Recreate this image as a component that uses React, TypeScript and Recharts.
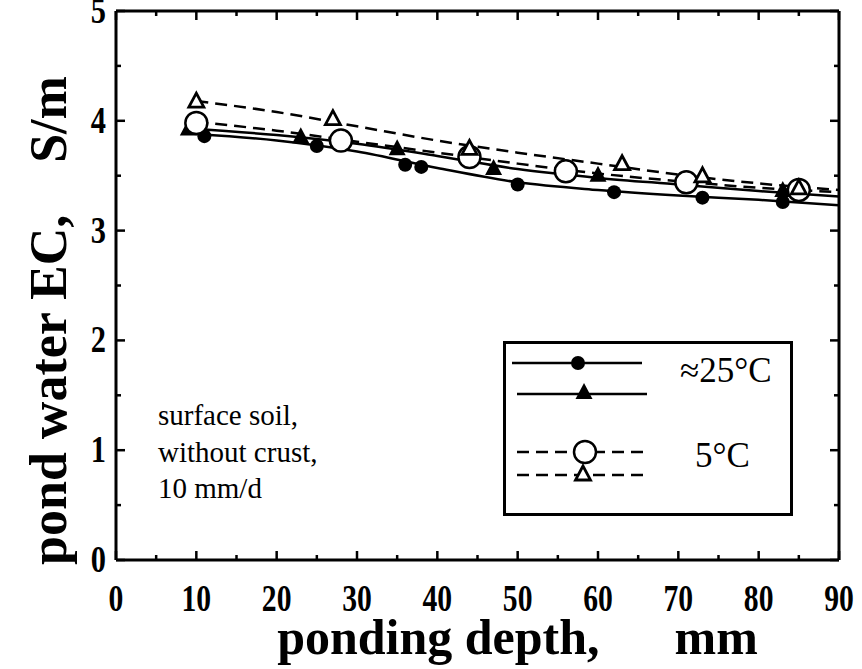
import React from 'react';
import { ComposedChart, Line, Scatter, XAxis, YAxis, Legend } from 'recharts';

// measured points (ponding depth mm, EC S/m)
const warmCircles = [
  { x: 11, y: 3.86 }, { x: 25, y: 3.77 }, { x: 36, y: 3.6 }, { x: 38, y: 3.58 },
  { x: 50, y: 3.42 }, { x: 62, y: 3.35 }, { x: 73, y: 3.3 }, { x: 83, y: 3.26 },
];
const warmTriangles = [
  { x: 9, y: 3.92 }, { x: 23, y: 3.85 }, { x: 35, y: 3.74 }, { x: 47, y: 3.56 },
  { x: 60, y: 3.5 }, { x: 83, y: 3.36 },
];
const coldCircles = [
  { x: 10, y: 3.98 }, { x: 28, y: 3.82 }, { x: 44, y: 3.67 }, { x: 56, y: 3.54 },
  { x: 71, y: 3.44 }, { x: 85, y: 3.37 },
];
const coldTriangles = [
  { x: 10, y: 4.17 }, { x: 27, y: 4.01 }, { x: 44, y: 3.74 }, { x: 63, y: 3.6 },
  { x: 73, y: 3.49 }, { x: 85, y: 3.38 },
];

// fitted curves
const warmCircleFit = [
  { x: 10, y: 3.88 }, { x: 20, y: 3.82 }, { x: 30, y: 3.72 }, { x: 40, y: 3.57 }, { x: 50, y: 3.44 },
  { x: 60, y: 3.37 }, { x: 70, y: 3.32 }, { x: 80, y: 3.28 }, { x: 90, y: 3.23 },
];
const warmTriangleFit = [
  { x: 9, y: 3.93 }, { x: 20, y: 3.87 }, { x: 30, y: 3.79 }, { x: 40, y: 3.68 }, { x: 50, y: 3.56 },
  { x: 60, y: 3.48 }, { x: 70, y: 3.42 }, { x: 80, y: 3.36 }, { x: 90, y: 3.31 },
];
const coldCircleFit = [
  { x: 10, y: 3.99 }, { x: 20, y: 3.91 }, { x: 30, y: 3.81 }, { x: 40, y: 3.71 }, { x: 50, y: 3.61 },
  { x: 60, y: 3.52 }, { x: 70, y: 3.45 }, { x: 80, y: 3.39 }, { x: 90, y: 3.35 },
];
const coldTriangleFit = [
  { x: 10, y: 4.18 }, { x: 20, y: 4.08 }, { x: 30, y: 3.95 }, { x: 40, y: 3.82 }, { x: 50, y: 3.71 },
  { x: 60, y: 3.61 }, { x: 70, y: 3.51 }, { x: 80, y: 3.43 }, { x: 90, y: 3.37 },
];

const depthTicks = [0, 5, 10, 15, 20, 25, 30, 35, 40, 45, 50, 55, 60, 65, 70, 75, 80, 85, 90];
const ecTicks = [0, 0.5, 1, 1.5, 2, 2.5, 3, 3.5, 4, 4.5, 5];

const noteLines = ['surface soil,', 'without crust,', '10 mm/d'];
const xTitle = 'ponding depth,\u00a0\u00a0\u00a0\u00a0\u00a0\u00a0mm';
const yTitle = 'pond water EC,\u00a0\u00a0\u00a0\u00a0S/m';

const SERIF = '"Liberation Serif", "Times New Roman", serif';

const isMajor = (v: number) => Math.abs(v - Math.round(v / 10) * 10) < 1e-6;
const isMajorY = (v: number) => Math.abs(v - Math.round(v)) < 1e-6;

const BottomTick = (p: any) => {
  const v = p.payload.value;
  const major = isMajor(v);
  return (
    <g>
      <line x1={p.x} x2={p.x} y1={p.y} y2={p.y - (major ? 9 : 5)} stroke="#000" strokeWidth={2.5} />
      {major && (
        <text
          transform={`translate(${p.x},${p.y + 51}) scale(0.78,1)`}
          textAnchor="middle"
          fontFamily={SERIF}
          fontWeight="bold"
          fontSize={38}
          fill="#000"
        >
          {v}
        </text>
      )}
    </g>
  );
};

const TopTick = (p: any) => {
  const major = isMajor(p.payload.value);
  return <line x1={p.x} x2={p.x} y1={p.y} y2={p.y + (major ? 9 : 5)} stroke="#000" strokeWidth={2.5} />;
};

const LeftTick = (p: any) => {
  const v = p.payload.value;
  const major = isMajorY(v);
  return (
    <g>
      <line x1={p.x} x2={p.x + (major ? 9 : 5)} y1={p.y} y2={p.y} stroke="#000" strokeWidth={2.5} />
      {major && (
        <text
          transform={`translate(${p.x - 10},${p.y + 12}) scale(0.8,1)`}
          textAnchor="end"
          fontFamily={SERIF}
          fontWeight="bold"
          fontSize={38}
          fill="#000"
        >
          {v}
        </text>
      )}
    </g>
  );
};

const RightTick = (p: any) => {
  const major = isMajorY(p.payload.value);
  return <line x1={p.x} x2={p.x - (major ? 9 : 5)} y1={p.y} y2={p.y} stroke="#000" strokeWidth={2.5} />;
};

const XTitle = (p: any) => {
  const vb = p.viewBox;
  return (
    <text
      x={vb.x + vb.width / 2 + 40}
      y={vb.y + vb.height - 15}
      textAnchor="middle"
      fontFamily={SERIF}
      fontWeight="bold"
      fontSize={50}
      fill="#000"
    >
      {xTitle}
    </text>
  );
};

const YTitle = (p: any) => {
  const vb = p.viewBox;
  const cx = vb.x + 66;
  const cy = vb.y + vb.height / 2 + 35;
  return (
    <text
      transform={`translate(${cx},${cy}) rotate(-90)`}
      textAnchor="middle"
      fontFamily={SERIF}
      fontWeight="bold"
      fontSize={52}
      fill="#000"
    >
      {yTitle}
    </text>
  );
};

const dot = (cx: number, cy: number) => <circle cx={cx} cy={cy} r={7} fill="#000" />;
const tri = (cx: number, cy: number) => (
  <polygon points={`${cx},${cy - 10} ${cx - 8.5},${cy + 6} ${cx + 8.5},${cy + 6}`} fill="#000" />
);
const ring = (cx: number, cy: number) => (
  <circle cx={cx} cy={cy} r={11} fill="#fff" stroke="#000" strokeWidth={2.5} />
);
const hollowTri = (cx: number, cy: number) => (
  <polygon
    points={`${cx},${cy - 9} ${cx - 7.5},${cy + 5} ${cx + 7.5},${cy + 5}`}
    fill="#fff"
    stroke="#000"
    strokeWidth={2.8}
    strokeLinejoin="miter"
  />
);

const LegendBox = () => (
  <svg width={290} height={175} style={{ display: 'block' }}>
    <rect x={1.5} y={1.5} width={287} height={172} fill="#fff" stroke="#000" strokeWidth={3} />
    <line x1={9} x2={139} y1={22} y2={22} stroke="#000" strokeWidth={2.5} />
    {dot(75, 22)}
    <line x1={14} x2={144} y1={53} y2={53} stroke="#000" strokeWidth={2.5} />
    {tri(81, 52)}
    <line x1={14} x2={144} y1={111} y2={111} stroke="#000" strokeWidth={2.5} strokeDasharray="12 7" />
    {ring(82, 111)}
    <line x1={14} x2={144} y1={134} y2={134} stroke="#000" strokeWidth={2.5} strokeDasharray="12 7" />
    {hollowTri(80, 134)}
    <text x={177} y={41} fontFamily={SERIF} fontSize={35} fill="#000">≈25°C</text>
    <text x={192} y={126} fontFamily={SERIF} fontSize={35} fill="#000">5°C</text>
  </svg>
);

export default function App() {
  return (
    <div style={{ position: 'absolute', left: 0, top: 0, width: 862, height: 669, background: '#fff' }}>
      <ComposedChart width={862} height={669} margin={{ top: 10, right: 22, bottom: 0, left: 0 }}>
        <XAxis
          dataKey="x"
          type="number"
          domain={[0, 90]}
          ticks={depthTicks}
          interval={0}
          height={109}
          tickSize={0}
          tickMargin={0}
          tickLine={false}
          axisLine={{ stroke: '#000', strokeWidth: 3 }}
          tick={BottomTick}
          allowDataOverflow
          label={{ content: XTitle }}
        />
        <XAxis
          xAxisId="top"
          orientation="top"
          dataKey="x"
          type="number"
          domain={[0, 90]}
          ticks={depthTicks}
          interval={0}
          height={1}
          tickSize={0}
          tickMargin={0}
          tickLine={false}
          axisLine={{ stroke: '#000', strokeWidth: 3 }}
          tick={TopTick}
          allowDataOverflow
        />
        <YAxis
          dataKey="y"
          type="number"
          domain={[0, 5]}
          ticks={ecTicks}
          interval={0}
          width={116}
          tickSize={0}
          tickMargin={0}
          tickLine={false}
          axisLine={{ stroke: '#000', strokeWidth: 3 }}
          tick={LeftTick}
          allowDataOverflow
          label={{ content: YTitle }}
        />
        <YAxis
          yAxisId="right"
          orientation="right"
          dataKey="y"
          type="number"
          domain={[0, 5]}
          ticks={ecTicks}
          interval={0}
          width={1}
          tickSize={0}
          tickMargin={0}
          tickLine={false}
          axisLine={{ stroke: '#000', strokeWidth: 3 }}
          tick={RightTick}
          allowDataOverflow
        />
        <Legend
          layout="vertical"
          align="center"
          verticalAlign="middle"
          wrapperStyle={{ left: 503, top: 341, width: 290, height: 175 }}
          content={LegendBox}
        />

        {/* invisible series so the top/right frame axes get drawn */}
        <Line xAxisId="top" yAxisId="right" data={coldTriangleFit} dataKey="y" stroke="none" dot={false} isAnimationActive={false} legendType="none" />

        <Line data={warmCircleFit} dataKey="y" type="monotone" stroke="#000" strokeWidth={2.5} dot={false} isAnimationActive={false} legendType="none" />
        <Line data={warmTriangleFit} dataKey="y" type="monotone" stroke="#000" strokeWidth={2.5} dot={false} isAnimationActive={false} legendType="none" />
        <Line data={coldCircleFit} dataKey="y" type="monotone" stroke="#000" strokeWidth={2.5} strokeDasharray="12 7" dot={false} isAnimationActive={false} legendType="none" />
        <Line data={coldTriangleFit} dataKey="y" type="monotone" stroke="#000" strokeWidth={2.5} strokeDasharray="12 7" dot={false} isAnimationActive={false} legendType="none" />

        <Scatter data={warmCircles} dataKey="y" isAnimationActive={false} shape={(p: any) => dot(p.cx, p.cy)} />
        <Scatter data={warmTriangles} dataKey="y" isAnimationActive={false} shape={(p: any) => tri(p.cx, p.cy)} />
        <Scatter data={coldCircles} dataKey="y" isAnimationActive={false} shape={(p: any) => ring(p.cx, p.cy)} />
        <Scatter data={coldTriangles} dataKey="y" isAnimationActive={false} shape={(p: any) => hollowTri(p.cx, p.cy)} />
      </ComposedChart>
      <div
        style={{
          position: 'absolute',
          left: 158,
          top: 397,
          fontFamily: SERIF,
          fontSize: 29,
          lineHeight: '36.5px',
          color: '#000',
        }}
      >
        {noteLines.map((t) => (
          <div key={t}>{t}</div>
        ))}
      </div>
    </div>
  );
}
